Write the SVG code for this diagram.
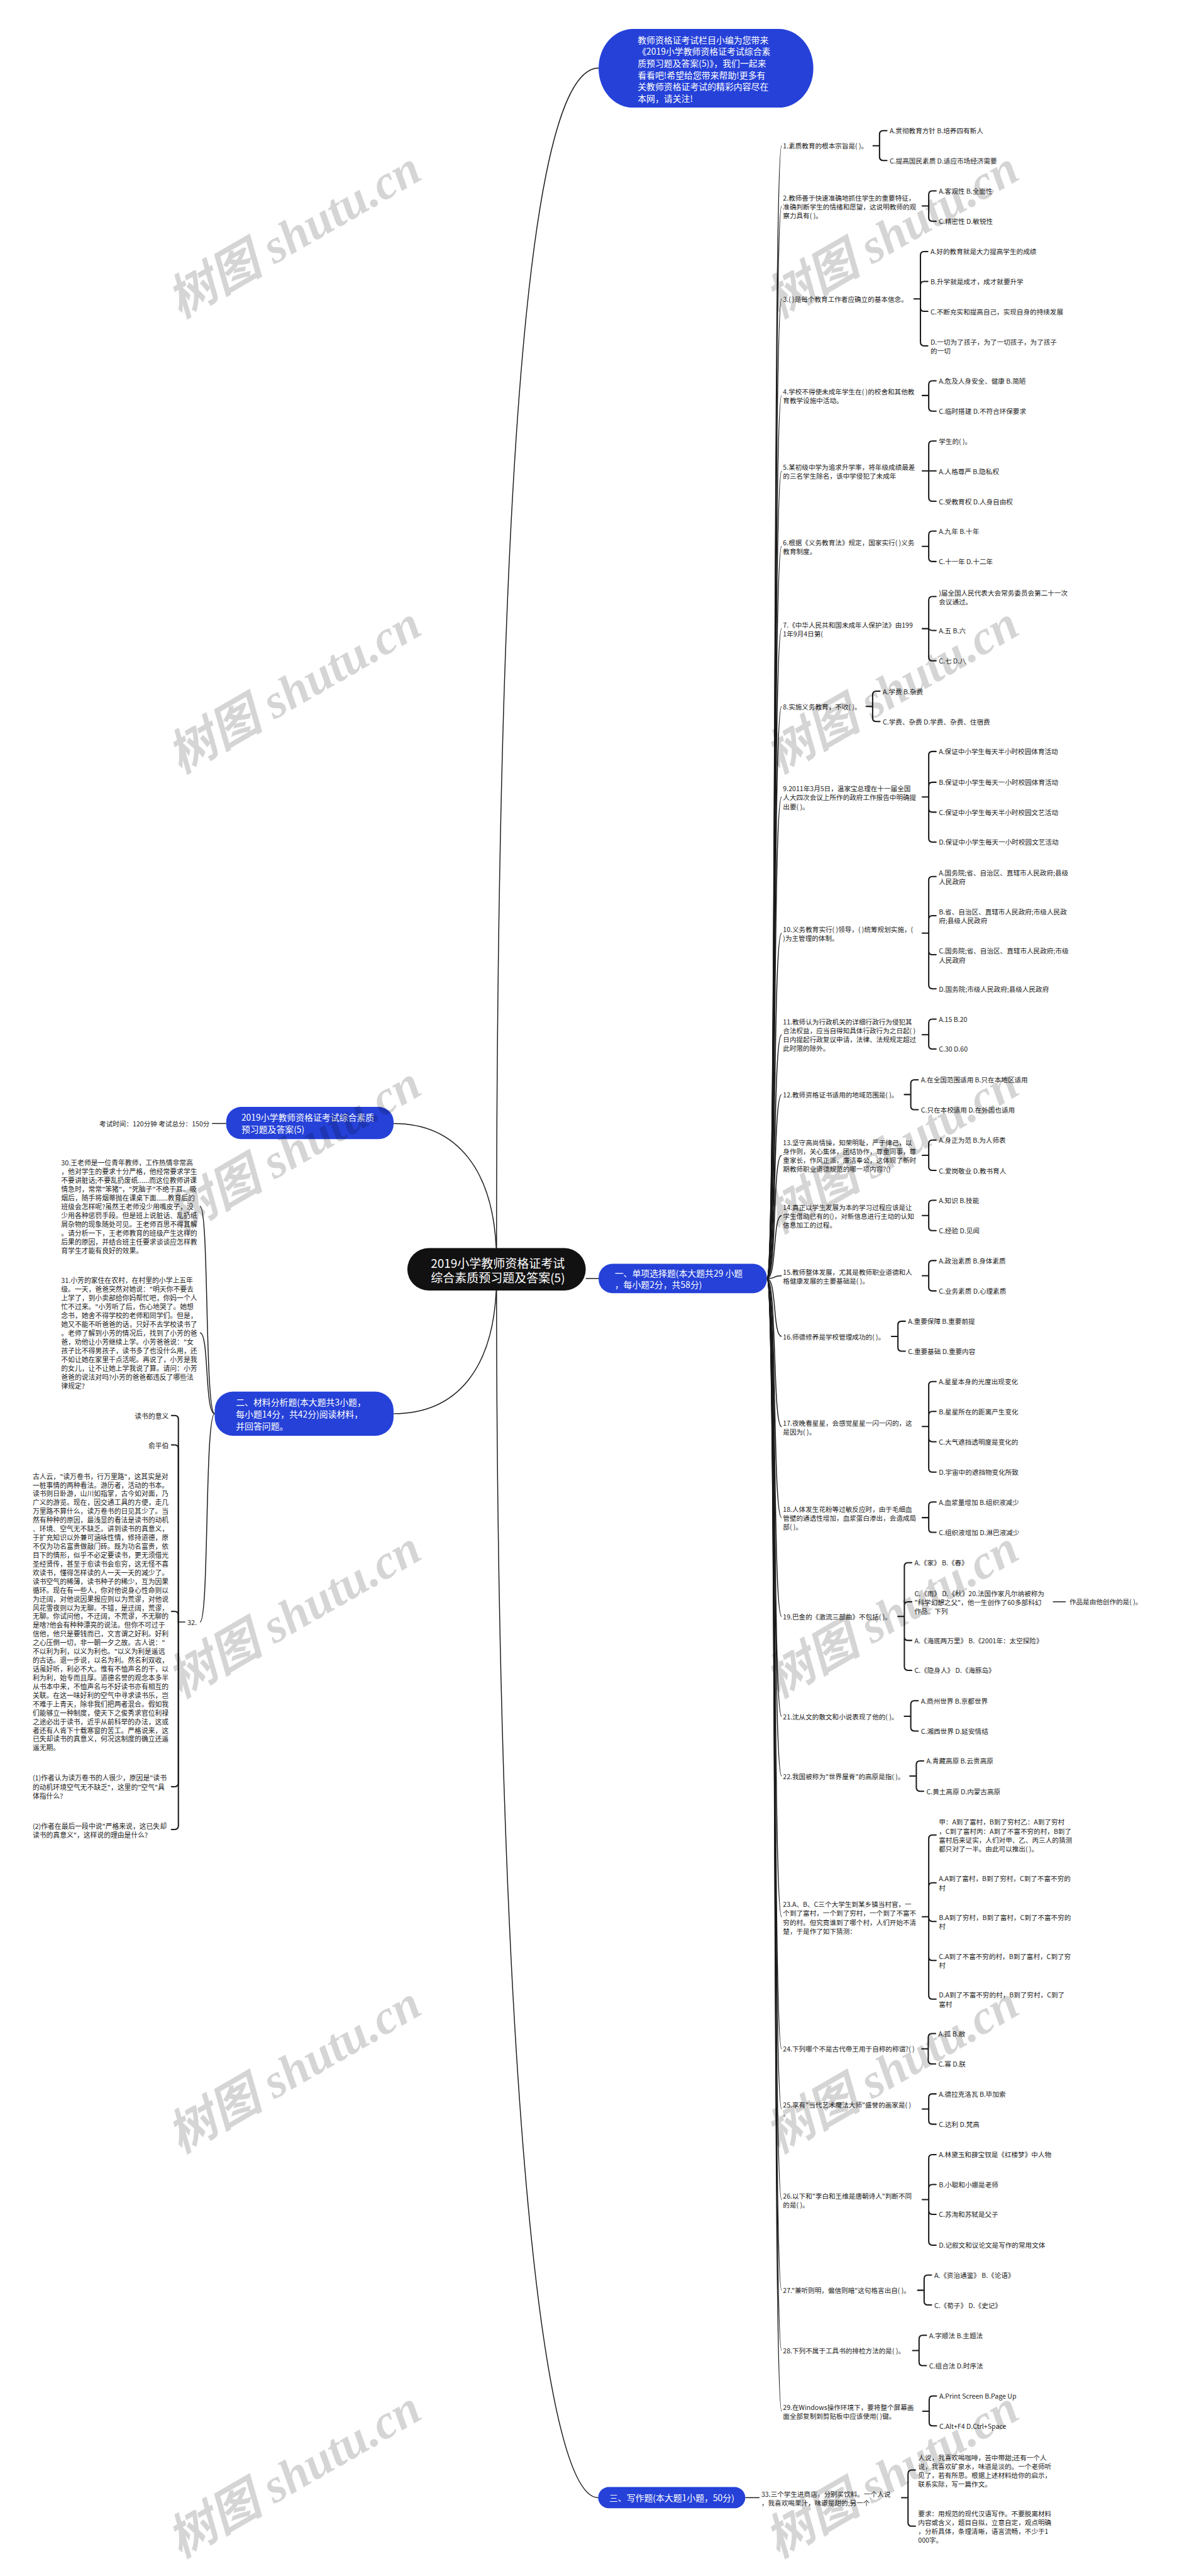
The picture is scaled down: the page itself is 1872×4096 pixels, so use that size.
<svg xmlns="http://www.w3.org/2000/svg" width="1872" height="4096" viewBox="0 0 1872 4096">
<style>
.t{font-family:'Noto Sans CJK SC','Noto Sans',sans-serif;font-size:14.5px;fill:#222;dominant-baseline:central}
.tl{font-family:'Noto Sans CJK SC','Noto Sans',sans-serif;font-size:14.8px;fill:#222;dominant-baseline:central}
.w{font-family:'Noto Sans CJK SC','Noto Sans',sans-serif;font-size:19px;fill:#fff;dominant-baseline:central}
.c{fill:none;stroke:#1a1a1a;stroke-width:2}
.b{fill:none;stroke:#1a1a1a;stroke-width:2.8;stroke-linecap:round}
.nb{fill:#2541d8}
.wm{font-family:'Liberation Serif','Noto Sans CJK SC',serif;font-size:105px;font-weight:bold;font-style:italic;fill:#000;opacity:0.16;text-anchor:middle;dominant-baseline:central}
</style>
<rect width="1872" height="4096" fill="#fff"/>
<g transform="scale(0.73125)">
<g id="connectors">
<path class="c" d="M1080,2740C1080,700 1180,148 1302,148"/>
<path class="c" d="M1080,2780C1080,4400 1170,5431 1301,5431"/>
<path class="c" d="M1080,2745C1080,2540 990,2443 856,2443"/>
<path class="c" d="M1080,2775C1080,2980 990,3074 856,3074"/>
<path class="c" d="M1274,2780H1302"/>
<path class="c" d="M492,2443H461"/>
<path class="c" d="M467,3074C445,3074 455,2623 435,2623"/>
<path class="c" d="M467,3074C445,3074 455,2898 435,2898"/>
<path class="c" d="M467,3074C445,3074 455,3527 435,3527"/>
<path class="c" d="M403,3527H388"/>
<path class="b" d="M388,3527V3086Q388,3078 380,3078H373"/>
<path class="b" d="M388,3527V3150Q388,3142 380,3142H373"/>
<path class="b" d="M388,3527V3512Q388,3504 380,3504H373"/>
<path class="b" d="M388,3527V3877Q388,3885 380,3885H373"/>
<path class="b" d="M388,3527V3970Q388,3978 380,3978H373"/>
<path class="c" d="M1621,5431H1652"/>
<g id="trunk">
<path class="c" d="M1668,2780C1690,2780 1680,317 1700,317"/>
<path class="c" d="M1668,2780C1690,2780 1680,448 1700,448"/>
<path class="c" d="M1668,2780C1690,2780 1680,650 1700,650"/>
<path class="c" d="M1668,2780C1690,2780 1680,860 1700,860"/>
<path class="c" d="M1668,2780C1690,2780 1680,1024 1700,1024"/>
<path class="c" d="M1668,2780C1690,2780 1680,1188 1700,1188"/>
<path class="c" d="M1668,2780C1690,2780 1680,1367 1700,1367"/>
<path class="c" d="M1668,2780C1690,2780 1680,1536 1700,1536"/>
<path class="c" d="M1668,2780C1690,2780 1680,1733 1700,1733"/>
<path class="c" d="M1668,2780C1690,2780 1680,2029 1700,2029"/>
<path class="c" d="M1668,2780C1690,2780 1680,2250 1700,2250"/>
<path class="c" d="M1668,2780C1690,2780 1680,2380 1700,2380"/>
<path class="c" d="M1668,2780C1690,2780 1680,2512 1700,2512"/>
<path class="c" d="M1668,2780C1690,2780 1680,2643 1700,2643"/>
<path class="c" d="M1668,2780C1690,2780 1680,2774 1700,2774"/>
<path class="c" d="M1668,2780C1690,2780 1680,2906 1700,2906"/>
<path class="c" d="M1668,2780C1690,2780 1680,3102 1700,3102"/>
<path class="c" d="M1668,2780C1690,2780 1680,3300 1700,3300"/>
<path class="c" d="M1668,2780C1690,2780 1680,3515 1700,3515"/>
<path class="c" d="M1668,2780C1690,2780 1680,3732 1700,3732"/>
<path class="c" d="M1668,2780C1690,2780 1680,3862 1700,3862"/>
<path class="c" d="M1668,2780C1690,2780 1680,4168 1700,4168"/>
<path class="c" d="M1668,2780C1690,2780 1680,4455 1700,4455"/>
<path class="c" d="M1668,2780C1690,2780 1680,4586 1700,4586"/>
<path class="c" d="M1668,2780C1690,2780 1680,4783 1700,4783"/>
<path class="c" d="M1668,2780C1690,2780 1680,4980 1700,4980"/>
<path class="c" d="M1668,2780C1690,2780 1680,5111 1700,5111"/>
<path class="c" d="M1668,2780C1690,2780 1680,5243 1700,5243"/>
</g>
<g id="brackets">
<path class="b" d="M1899,317H1913M1913,317V292Q1913,284 1921,284H1929M1913,317V341Q1913,349 1921,349H1929"/>
<path class="b" d="M2006,448H2020M2020,448V423Q2020,415 2028,415H2036M2020,448V473Q2020,481 2028,481H2036"/>
<path class="b" d="M1988,650H2002M2002,650V555Q2002,547 2010,547H2018M2002,650V620Q2002,612 2010,612H2018M2002,650V669Q2002,677 2010,677H2018M2002,650V744Q2002,752 2010,752H2018"/>
<path class="b" d="M2006,860H2020M2020,860V836Q2020,828 2028,828H2036M2020,860V886Q2020,894 2028,894H2036"/>
<path class="b" d="M2006,1024H2020M2020,1024V967Q2020,959 2028,959H2036M2020,1024H2036M2020,1024V1082Q2020,1090 2028,1090H2036"/>
<path class="b" d="M2006,1188H2020M2020,1188V1163Q2020,1155 2028,1155H2036M2020,1188V1213Q2020,1221 2028,1221H2036"/>
<path class="b" d="M2006,1367H2020M2020,1367V1305Q2020,1297 2028,1297H2036M2020,1367Q2022,1371 2030,1371H2036M2020,1367V1429Q2020,1437 2028,1437H2036"/>
<path class="b" d="M1884,1536H1898M1898,1536V1511Q1898,1503 1906,1503H1914M1898,1536V1561Q1898,1569 1906,1569H1914"/>
<path class="b" d="M2006,1733H2020M2020,1733V1642Q2020,1634 2028,1634H2036M2020,1733V1709Q2020,1701 2028,1701H2036M2020,1733V1758Q2020,1766 2028,1766H2036M2020,1733V1823Q2020,1831 2028,1831H2036"/>
<path class="b" d="M2006,2029H2020M2020,2029V1914Q2020,1906 2028,1906H2036M2020,2029V1999Q2020,1991 2028,1991H2036M2020,2029V2068Q2020,2076 2028,2076H2036M2020,2029V2142Q2020,2150 2028,2150H2036"/>
<path class="b" d="M2006,2250H2020M2020,2250V2224Q2020,2216 2028,2216H2036M2020,2250V2273Q2020,2281 2028,2281H2036"/>
<path class="b" d="M1967,2380H1981M1981,2380V2356Q1981,2348 1989,2348H1997M1981,2380V2405Q1981,2413 1989,2413H1997"/>
<path class="b" d="M2006,2512H2020M2020,2512V2487Q2020,2479 2028,2479H2036M2020,2512V2537Q2020,2545 2028,2545H2036"/>
<path class="b" d="M2006,2643H2020M2020,2643V2618Q2020,2610 2028,2610H2036M2020,2643V2668Q2020,2676 2028,2676H2036"/>
<path class="b" d="M2006,2774H2020M2020,2774V2749Q2020,2741 2028,2741H2036M2020,2774V2799Q2020,2807 2028,2807H2036"/>
<path class="b" d="M1939,2906H1953M1953,2906V2881Q1953,2873 1961,2873H1969M1953,2906V2930Q1953,2938 1961,2938H1969"/>
<path class="b" d="M2006,3102H2020M2020,3102V3012Q2020,3004 2028,3004H2036M2020,3102V3077Q2020,3069 2028,3069H2036M2020,3102V3127Q2020,3135 2028,3135H2036M2020,3102V3193Q2020,3201 2028,3201H2036"/>
<path class="b" d="M2006,3300H2020M2020,3300V3274Q2020,3266 2028,3266H2036M2020,3300V3324Q2020,3332 2028,3332H2036"/>
<path class="b" d="M1953,3515H1967M1967,3515V3406Q1967,3398 1975,3398H1983M1967,3515V3491Q1967,3483 1975,3483H1983M1967,3515V3559Q1967,3567 1975,3567H1983M1967,3515V3624Q1967,3632 1975,3632H1983"/>
<path class="c" d="M2290,3483H2318"/>
<path class="b" d="M1967,3732H1981M1981,3732V3706Q1981,3698 1989,3698H1997M1981,3732V3756Q1981,3764 1989,3764H1997"/>
<path class="b" d="M1979,3862H1993M1993,3862V3837Q1993,3829 2001,3829H2009M1993,3862V3887Q1993,3895 2001,3895H2009"/>
<path class="b" d="M2006,4168H2020M2020,4168V3998Q2020,3990 2028,3990H2036M2020,4168V4102Q2020,4094 2028,4094H2036M2020,4168V4170Q2020,4178 2028,4178H2036M2020,4168V4255Q2020,4263 2028,4263H2036M2020,4168V4339Q2020,4347 2028,4347H2036"/>
<path class="b" d="M2005,4455H2019M2019,4455V4430Q2019,4422 2027,4422H2035M2019,4455V4480Q2019,4488 2027,4488H2035"/>
<path class="b" d="M2006,4586H2020M2020,4586V4561Q2020,4553 2028,4553H2036M2020,4586V4611Q2020,4619 2028,4619H2036"/>
<path class="b" d="M2006,4783H2020M2020,4783V4693Q2020,4685 2028,4685H2036M2020,4783V4758Q2020,4750 2028,4750H2036M2020,4783V4807Q2020,4815 2028,4815H2036M2020,4783V4874Q2020,4882 2028,4882H2036"/>
<path class="b" d="M1996,4980H2010M2010,4980V4955Q2010,4947 2018,4947H2026M2010,4980V5004Q2010,5012 2018,5012H2026"/>
<path class="b" d="M1985,5111H1999M1999,5111V5086Q1999,5078 2007,5078H2015M1999,5111V5136Q1999,5144 2007,5144H2015"/>
<path class="b" d="M2007,5243H2021M2021,5243V5218Q2021,5210 2029,5210H2037M2021,5243V5267Q2021,5275 2029,5275H2037"/>
<path class="b" d="M1961,5431H1975M1975,5431V5379Q1975,5371 1983,5371H1991M1975,5431V5485Q1975,5493 1983,5493H1991"/>
</g>
</g>

<g id="top-node">
<rect class="nb" x="1302" y="63" width="467" height="171" rx="75" ry="85"/>
<text class="w" x="1387" y="86"><tspan x="1387">教师资格证考试栏目小编为您带来</tspan><tspan x="1387" dy="25.4">《2019小学教师资格证考试综合素</tspan><tspan x="1387" dy="25.4">质预习题及答案(5)》，我们一起来</tspan><tspan x="1387" dy="25.4">看看吧!希望给您带来帮助!更多有</tspan><tspan x="1387" dy="25.4">关教师资格证考试的精彩内容尽在</tspan><tspan x="1387" dy="25.4">本网，请关注!</tspan></text>
</g>
<g id="root">
<rect x="886" y="2714" width="388" height="92" rx="46" fill="#111"/>
<text class="w" style="font-size:26px" x="937" y="2744"><tspan x="937">2019小学教师资格证考试</tspan><tspan x="937" dy="32">综合素质预习题及答案(5)</tspan></text>
</g>
<g id="left-title">
<rect class="nb" x="492" y="2407" width="364" height="70" rx="32"/>
<text class="w" x="525" y="2429"><tspan x="525">2019小学教师资格证考试综合素质</tspan><tspan x="525" dy="26">预习题及答案(5)</tspan></text>
</g>
<g id="exam-time"><text class="t" x="456" y="2443" text-anchor="end">考试时间：120分钟 考试总分：150分</text></g>
<g id="sec1">
<rect class="nb" x="1302" y="2748" width="366" height="64" rx="30"/>
<text class="w" x="1337" y="2768"><tspan x="1337">一、单项选择题(本大题共29 小题</tspan><tspan x="1337" dy="24">，每小题2分，共58分)</tspan></text>
</g>
<g id="sec2">
<rect class="nb" x="467" y="3026" width="389" height="96" rx="40"/>
<text class="w" x="513" y="3048"><tspan x="513">二、材料分析题(本大题共3小题，</tspan><tspan x="513" dy="26">每小题14分，共42分)阅读材料，</tspan><tspan x="513" dy="26">并回答问题。</tspan></text>
</g>
<g id="sec3">
<rect class="nb" x="1301" y="5408" width="320" height="46" rx="23"/>
<text class="w" x="1325" y="5431">三、写作题(本大题1小题，50分)</text>
</g>

<g id="q30"><text class="tl" x="133" y="2527"><tspan x="133">30.王老师是一位青年教师，工作热情非常高</tspan><tspan x="133" dy="19.1">，他对学生的要求十分严格，他经常要求学生</tspan><tspan x="133" dy="19.1">不要讲脏话;不要乱扔废纸......而这位教师讲课</tspan><tspan x="133" dy="19.1">情急时，常常"笨猪"，"死脑子"不绝于耳。吸</tspan><tspan x="133" dy="19.1">烟后，随手将烟蒂抛在课桌下面......教育后的</tspan><tspan x="133" dy="19.1">班级会怎样呢?虽然王老师没少用嘴皮子，没</tspan><tspan x="133" dy="19.1">少用各种惩罚手段。但是班上说脏话、乱扔纸</tspan><tspan x="133" dy="19.1">屑杂物的现象随处可见。王老师百思不得其解</tspan><tspan x="133" dy="19.1">。请分析一下，王老师教育的班级产生这样的</tspan><tspan x="133" dy="19.1">后果的原因，并结合班主任要求谈谈应怎样教</tspan><tspan x="133" dy="19.1">育学生才能有良好的效果。</tspan></text></g>
<g id="q31"><text class="tl" x="133" y="2783"><tspan x="133">31.小芳的家住在农村，在村里的小学上五年</tspan><tspan x="133" dy="19.1">级。一天，爸爸突然对她说："明天你不要去</tspan><tspan x="133" dy="19.1">上学了，到小卖部给你妈帮忙吧，你妈一个人</tspan><tspan x="133" dy="19.1">忙不过来。"小芳听了后，伤心地哭了。她想</tspan><tspan x="133" dy="19.1">念书，她舍不得学校的老师和同学们。但是，</tspan><tspan x="133" dy="19.1">她又不能不听爸爸的话，只好不去学校读书了</tspan><tspan x="133" dy="19.1">。老师了解到小芳的情况后，找到了小芳的爸</tspan><tspan x="133" dy="19.1">爸，劝他让小芳继续上学。小芳爸爸说："女</tspan><tspan x="133" dy="19.1">孩子比不得男孩子，读书多了也没什么用，还</tspan><tspan x="133" dy="19.1">不如让她在家里干点活呢。再说了，小芳是我</tspan><tspan x="133" dy="19.1">的女儿，让不让她上学我说了算。请问：小芳</tspan><tspan x="133" dy="19.1">爸爸的说法对吗?小芳的爸爸都违反了哪些法</tspan><tspan x="133" dy="19.1">律规定?</tspan></text></g>
<g id="q32">
<text class="tl" x="428" y="3527" text-anchor="end">32.</text>
<g id="q32-title"><text class="tl" x="367" y="3078" text-anchor="end">读书的意义</text></g>
<g id="q32-author"><text class="tl" x="367" y="3142" text-anchor="end">俞平伯</text></g>
<g id="q32-text"><text class="tl" x="71" y="3209"><tspan x="71">古人云，"读万卷书，行万里路"，这其实是对</tspan><tspan x="71" dy="19.05">一桩事情的两种看法。游历者，活动的书本。</tspan><tspan x="71" dy="19.05">读书则日卧游，山川如指掌，古今如对面，乃</tspan><tspan x="71" dy="19.05">广义的游览。现在，因交通工具的方便，走几</tspan><tspan x="71" dy="19.05">万里路不算什么，读万卷书的日见其少了。当</tspan><tspan x="71" dy="19.05">然有种种的原因，最浅显的看法是读书的动机</tspan><tspan x="71" dy="19.05">、环境、空气无不缺乏。讲到读书的真意义，</tspan><tspan x="71" dy="19.05">于扩充知识以外兼可涵咏性情，修持道德，原</tspan><tspan x="71" dy="19.05">不仅为功名富贵做敲门砖。既为功名富贵，依</tspan><tspan x="71" dy="19.05">目下的情形，似乎不必定要读书，更无须借光</tspan><tspan x="71" dy="19.05">圣经贤传，甚至于愈读书会愈穷，这无怪不喜</tspan><tspan x="71" dy="19.05">欢读书，懂得怎样读的人一天一天的减少了。</tspan><tspan x="71" dy="19.05">读书空气的稀薄，读书种子的稀少，互为因果</tspan><tspan x="71" dy="19.05">循环。现在有一些人，你对他说身心性命则以</tspan><tspan x="71" dy="19.05">为迂阔，对他说因果报应则以为荒谬，对他说</tspan><tspan x="71" dy="19.05">风花雪夜则以为无聊。不错，是迂阔，荒谬，</tspan><tspan x="71" dy="19.05">无聊。你试问他，不迂阔，不荒谬，不无聊的</tspan><tspan x="71" dy="19.05">是啥?他会有种种漂亮的说法。但你不可过于</tspan><tspan x="71" dy="19.05">信他，他只是要钱而已，文言谓之好利。好利</tspan><tspan x="71" dy="19.05">之心压倒一切，非一朝一夕之故。古人说："</tspan><tspan x="71" dy="19.05">不以利为利，以义为利也。"以义为利是遥远</tspan><tspan x="71" dy="19.05">的古话。退一步说，以名为利。然名利双收，</tspan><tspan x="71" dy="19.05">话虽好听，利必不大。惟有不恤声名的干，以</tspan><tspan x="71" dy="19.05">利为利，始专而且厚。道德名誉的观念本多半</tspan><tspan x="71" dy="19.05">从书本中来，不恤声名与不好读书亦有相互的</tspan><tspan x="71" dy="19.05">关联。在这一味好利的空气中寻求读书乐，岂</tspan><tspan x="71" dy="19.05">不难于上青天，除非我们把两者混合。假如我</tspan><tspan x="71" dy="19.05">们能够立一种制度，使天下之俊秀求官位利禄</tspan><tspan x="71" dy="19.05">之途必出于读书，近乎从前科举的办法，这或</tspan><tspan x="71" dy="19.05">者还有人肯下十载寒窗的苦工。严格说来，这</tspan><tspan x="71" dy="19.05">已失却读书的真意义，何况这制度的确立还遥</tspan><tspan x="71" dy="19.05">遥无期。</tspan></text></g>
<g id="q32-1"><text class="tl" x="71" y="3865"><tspan x="71">(1)作者认为读万卷书的人很少，原因是"读书</tspan><tspan x="71" dy="19.5">的动机环境空气无不缺乏"，这里的"空气"具</tspan><tspan x="71" dy="19.5">体指什么?</tspan></text></g>
<g id="q32-2"><text class="tl" x="71" y="3970"><tspan x="71">(2)作者在最后一段中说"严格来说，这已失却</tspan><tspan x="71" dy="19.5">读书的真意义"，这样说的理由是什么?</tspan></text></g>
</g>

<g id="q1"><text class="t" x="1703" y="317">1.素质教育的根本宗旨是( )。</text>
<text class="t" x="1935" y="284">A.贯彻教育方针 B.培养四有新人</text>
<text class="t" x="1935" y="349">C.提高国民素质 D.适应市场经济需要</text></g>
<g id="q2"><text class="t" x="1703" y="429"><tspan x="1703">2.教师善于快速准确地抓住学生的重要特征，</tspan><tspan x="1703" dy="19.3">准确判断学生的情绪和愿望，这说明教师的观</tspan><tspan x="1703" dy="19.3">察力具有( )。</tspan></text>
<text class="t" x="2042" y="415">A.客观性 B.全面性</text>
<text class="t" x="2042" y="481">C.精密性 D.敏锐性</text></g>
<g id="q3"><text class="t" x="1703" y="650">3.( )是每个教育工作者应确立的基本信念。</text>
<text class="t" x="2024" y="547">A.好的教育就是大力提高学生的成绩</text>
<text class="t" x="2024" y="612">B.升学就是成才，成才就要升学</text>
<text class="t" x="2024" y="677">C.不断充实和提高自己，实现自身的持续发展</text>
<text class="t" x="2024" y="743"><tspan x="2024">D.一切为了孩子，为了一切孩子，为了孩子</tspan><tspan x="2024" dy="19.3">的一切</tspan></text></g>
<g id="q4"><text class="t" x="1703" y="851"><tspan x="1703">4.学校不得使未成年学生在( )的校舍和其他教</tspan><tspan x="1703" dy="19.3">育教学设施中活动。</tspan></text>
<text class="t" x="2042" y="828">A.危及人身安全、健康 B.简陋</text>
<text class="t" x="2042" y="894">C.临时搭建 D.不符合环保要求</text></g>
<g id="q5"><text class="t" x="1703" y="1015"><tspan x="1703">5.某初级中学为追求升学率，将年级成绩最差</tspan><tspan x="1703" dy="19.3">的三名学生除名，该中学侵犯了未成年</tspan></text>
<text class="t" x="2042" y="959">学生的( )。</text>
<text class="t" x="2042" y="1025">A.人格尊严 B.隐私权</text>
<text class="t" x="2042" y="1090">C.受教育权 D.人身自由权</text></g>
<g id="q6"><text class="t" x="1703" y="1179"><tspan x="1703">6.根据《义务教育法》规定，国家实行( )义务</tspan><tspan x="1703" dy="19.3">教育制度。</tspan></text>
<text class="t" x="2042" y="1155">A.九年 B.十年</text>
<text class="t" x="2042" y="1221">C.十一年 D.十二年</text></g>
<g id="q7"><text class="t" x="1703" y="1358"><tspan x="1703">7.《中华人民共和国未成年人保护法》由199</tspan><tspan x="1703" dy="19.3">1年9月4日第(</tspan></text>
<text class="t" x="2042" y="1288"><tspan x="2042">)届全国人民代表大会常务委员会第二十一次</tspan><tspan x="2042" dy="19.3">会议通过。</tspan></text>
<text class="t" x="2042" y="1371">A.五 B.六</text>
<text class="t" x="2042" y="1437">C.七 D.八</text></g>
<g id="q8"><text class="t" x="1703" y="1536">8.实施义务教育，不收( )。</text>
<text class="t" x="1920" y="1503">A.学费 B.杂费</text>
<text class="t" x="1920" y="1569">C.学费、杂费 D.学费、杂费、住宿费</text></g>
<g id="q9"><text class="t" x="1703" y="1714"><tspan x="1703">9.2011年3月5日，温家宝总理在十一届全国</tspan><tspan x="1703" dy="19.3">人大四次会议上所作的政府工作报告中明确提</tspan><tspan x="1703" dy="19.3">出要( )。</tspan></text>
<text class="t" x="2042" y="1634">A.保证中小学生每天半小时校园体育活动</text>
<text class="t" x="2042" y="1701">B.保证中小学生每天一小时校园体育活动</text>
<text class="t" x="2042" y="1766">C.保证中小学生每天半小时校园文艺活动</text>
<text class="t" x="2042" y="1831">D.保证中小学生每天一小时校园文艺活动</text></g>
<g id="q10"><text class="t" x="1703" y="2020"><tspan x="1703">10.义务教育实行( )领导，( )统筹规划实施，(</tspan><tspan x="1703" dy="19.3">)为主管理的体制。</tspan></text>
<text class="t" x="2042" y="1897"><tspan x="2042">A.国务院;省、自治区、直辖市人民政府;县级</tspan><tspan x="2042" dy="19.3">人民政府</tspan></text>
<text class="t" x="2042" y="1982"><tspan x="2042">B.省、自治区、直辖市人民政府;市级人民政</tspan><tspan x="2042" dy="19.3">府;县级人民政府</tspan></text>
<text class="t" x="2042" y="2067"><tspan x="2042">C.国务院;省、自治区、直辖市人民政府;市级</tspan><tspan x="2042" dy="19.3">人民政府</tspan></text>
<text class="t" x="2042" y="2150">D.国务院;市级人民政府;县级人民政府</text></g>
<g id="q11"><text class="t" x="1703" y="2221"><tspan x="1703">11.教师认为行政机关的详细行政行为侵犯其</tspan><tspan x="1703" dy="19.3">合法权益，应当自得知具体行政行为之日起( )</tspan><tspan x="1703" dy="19.3">日内提起行政复议申请，法律、法规规定超过</tspan><tspan x="1703" dy="19.3">此时限的除外。</tspan></text>
<text class="t" x="2042" y="2216">A.15 B.20</text>
<text class="t" x="2042" y="2281">C.30 D.60</text></g>
<g id="q12"><text class="t" x="1703" y="2380">12.教师资格证书适用的地域范围是( )。</text>
<text class="t" x="2003" y="2348">A.在全国范围适用 B.只在本地区适用</text>
<text class="t" x="2003" y="2413">C.只在本校适用 D.在外国也适用</text></g>
<g id="q13"><text class="t" x="1703" y="2483"><tspan x="1703">13.坚守高尚情操，知荣明耻，严于律己，以</tspan><tspan x="1703" dy="19.3">身作则，关心集体，团结协作，尊重同事，尊</tspan><tspan x="1703" dy="19.3">重家长，作风正派，廉洁奉公，这体现了新时</tspan><tspan x="1703" dy="19.3">期教师职业道德规范的哪一项内容?()</tspan></text>
<text class="t" x="2042" y="2479">A.身正为范 B.为人师表</text>
<text class="t" x="2042" y="2545">C.爱岗敬业 D.教书育人</text></g>
<g id="q14"><text class="t" x="1703" y="2624"><tspan x="1703">14.真正以学生发展为本的学习过程应该是让</tspan><tspan x="1703" dy="19.3">学生借助已有的()，对新信息进行主动的认知</tspan><tspan x="1703" dy="19.3">信息加工的过程。</tspan></text>
<text class="t" x="2042" y="2610">A.知识 B.技能</text>
<text class="t" x="2042" y="2676">C.经验 D.见闻</text></g>
<g id="q15"><text class="t" x="1703" y="2765"><tspan x="1703">15.教师整体发展，尤其是教师职业道德和人</tspan><tspan x="1703" dy="19.3">格健康发展的主要基础是( )。</tspan></text>
<text class="t" x="2042" y="2741">A.政治素质 B.身体素质</text>
<text class="t" x="2042" y="2807">C.业务素质 D.心理素质</text></g>
<g id="q16"><text class="t" x="1703" y="2906">16.师德修养是学校管理成功的( )。</text>
<text class="t" x="1975" y="2873">A.重要保障 B.重要前提</text>
<text class="t" x="1975" y="2938">C.重要基础 D.重要内容</text></g>
<g id="q17"><text class="t" x="1703" y="3093"><tspan x="1703">17.夜晚看星星，会感觉星星一闪一闪的，这</tspan><tspan x="1703" dy="19.3">是因为( )。</tspan></text>
<text class="t" x="2042" y="3004">A.星星本身的光度出现变化</text>
<text class="t" x="2042" y="3069">B.星星所在的距离产生变化</text>
<text class="t" x="2042" y="3135">C.大气遮挡透明度是变化的</text>
<text class="t" x="2042" y="3201">D.宇宙中的遮挡物变化所致</text></g>
<g id="q18"><text class="t" x="1703" y="3281"><tspan x="1703">18.人体发生花粉等过敏反应时，由于毛细血</tspan><tspan x="1703" dy="19.3">管壁的通透性增加，血浆蛋白渗出，会造成局</tspan><tspan x="1703" dy="19.3">部( )。</tspan></text>
<text class="t" x="2042" y="3266">A.血浆量增加 B.组织液减少</text>
<text class="t" x="2042" y="3332">C.组织液增加 D.淋巴液减少</text></g>
<g id="q19"><text class="t" x="1703" y="3515">19.巴金的《激流三部曲》不包括( )。</text>
<text class="t" x="1989" y="3398">A.《家》 B.《春》</text>
<text class="t" x="1989" y="3464"><tspan x="1989">C.《雨》 D.《秋》20.法国作家凡尔纳被称为</tspan><tspan x="1989" dy="19.3">"科学幻想之父"，他一生创作了60多部科幻</tspan><tspan x="1989" dy="19.3">作品。下列</tspan></text>
<g id="q20"><text class="t" x="2326" y="3483">作品是由他创作的是( )。</text></g>
<text class="t" x="1989" y="3567">A.《海底两万里》 B.《2001年：太空探险》</text>
<text class="t" x="1989" y="3632">C.《隐身人》 D.《海豚岛》</text></g>
<g id="q21"><text class="t" x="1703" y="3732">21.沈从文的散文和小说表现了他的( )。</text>
<text class="t" x="2003" y="3698">A.商州世界 B.京都世界</text>
<text class="t" x="2003" y="3764">C.湘西世界 D.延安情结</text></g>
<g id="q22"><text class="t" x="1703" y="3862">22.我国被称为"世界屋脊"的高原是指( )。</text>
<text class="t" x="2015" y="3829">A.青藏高原 B.云贵高原</text>
<text class="t" x="2015" y="3895">C.黄土高原 D.内蒙古高原</text></g>
<g id="q23"><text class="t" x="1703" y="4140"><tspan x="1703">23.A、B、C三个大学生到某乡镇当村官，一</tspan><tspan x="1703" dy="19.3">个到了富村，一个到了穷村，一个到了不富不</tspan><tspan x="1703" dy="19.3">穷的村。但究竟谁到了哪个村，人们开始不清</tspan><tspan x="1703" dy="19.3">楚，于是作了如下猜测：</tspan></text>
<text class="t" x="2042" y="3961"><tspan x="2042">甲：A到了富村，B到了穷村乙：A到了穷村</tspan><tspan x="2042" dy="19.3">，C到了富村丙：A到了不富不穷的村，B到了</tspan><tspan x="2042" dy="19.3">富村后来证实，人们对甲、乙、丙三人的猜测</tspan><tspan x="2042" dy="19.3">都只对了一半。由此可以推出( )。</tspan></text>
<text class="t" x="2042" y="4084"><tspan x="2042">A.A到了富村，B到了穷村，C到了不富不穷的</tspan><tspan x="2042" dy="19.3">村</tspan></text>
<text class="t" x="2042" y="4168"><tspan x="2042">B.A到了穷村，B到了富村，C到了不富不穷的</tspan><tspan x="2042" dy="19.3">村</tspan></text>
<text class="t" x="2042" y="4253"><tspan x="2042">C.A到了不富不穷的村，B到了富村，C到了穷</tspan><tspan x="2042" dy="19.3">村</tspan></text>
<text class="t" x="2042" y="4337"><tspan x="2042">D.A到了不富不穷的村，B到了穷村，C到了</tspan><tspan x="2042" dy="19.3">富村</tspan></text></g>
<g id="q24"><text class="t" x="1703" y="4455">24.下列哪个不是古代帝王用于自称的称谓?( )</text>
<text class="t" x="2041" y="4422">A.孤 B.敝</text>
<text class="t" x="2041" y="4488">C.寡 D.朕</text></g>
<g id="q25"><text class="t" x="1703" y="4576"><tspan x="1703">25.享有"当代艺术魔法大师"盛誉的画家是( )</tspan><tspan x="1703" dy="19.3">。</tspan></text>
<text class="t" x="2042" y="4553">A.德拉克洛瓦 B.毕加索</text>
<text class="t" x="2042" y="4619">C.达利 D.梵高</text></g>
<g id="q26"><text class="t" x="1703" y="4774"><tspan x="1703">26.以下和"李白和王维是唐朝诗人"判断不同</tspan><tspan x="1703" dy="19.3">的是( )。</tspan></text>
<text class="t" x="2042" y="4685">A.林黛玉和薛宝钗是《红楼梦》中人物</text>
<text class="t" x="2042" y="4750">B.小聪和小娜是老师</text>
<text class="t" x="2042" y="4815">C.苏洵和苏轼是父子</text>
<text class="t" x="2042" y="4882">D.记叙文和议论文是写作的常用文体</text></g>
<g id="q27"><text class="t" x="1703" y="4980">27."兼听则明，偏信则暗"这句格言出自( )。</text>
<text class="t" x="2032" y="4947">A.《资治通鉴》 B.《论语》</text>
<text class="t" x="2032" y="5012">C.《荀子》 D.《史记》</text></g>
<g id="q28"><text class="t" x="1703" y="5111">28.下列不属于工具书的排检方法的是( )。</text>
<text class="t" x="2021" y="5078">A.字顺法 B.主题法</text>
<text class="t" x="2021" y="5144">C.组合法 D.时序法</text></g>
<g id="q29"><text class="t" x="1703" y="5233"><tspan x="1703">29.在Windows操作环境下，要将整个屏幕画</tspan><tspan x="1703" dy="19.3">面全部复制到剪贴板中应该使用( )键。</tspan></text>
<text class="t" x="2043" y="5210">A.Print Screen B.Page Up</text>
<text class="t" x="2043" y="5275">C.Alt+F4 D.Ctrl+Space</text></g>
<g id="q33"><text class="t" x="1656" y="5422"><tspan x="1656">33.三个学生进商店，分别买饮料。一个人说</tspan><tspan x="1656" dy="19">，我喜欢喝果汁，味道是甜的;另一个</tspan></text>
<text class="t" x="1997" y="5343"><tspan x="1997">人说，我喜欢喝咖啡，苦中带甜;还有一个人</tspan><tspan x="1997" dy="19">说，我喜欢矿泉水，味道是淡的。一个老师听</tspan><tspan x="1997" dy="19">见了，若有所思。根据上述材料给你的启示，</tspan><tspan x="1997" dy="19">联系实际，写一篇作文。</tspan></text>
<text class="t" x="1997" y="5465"><tspan x="1997">要求：用规范的现代汉语写作。不要脱离材料</tspan><tspan x="1997" dy="19">内容或含义，题目自拟，立意自定，观点明确</tspan><tspan x="1997" dy="19">，分析具体，条理清晰，语言流畅，不少于1</tspan><tspan x="1997" dy="19">000字。</tspan></text></g>

<g id="watermarks">
<text class="wm" x="640" y="510" transform="rotate(-30 640 510)">树图 shutu.cn</text>
<text class="wm" x="1940" y="510" transform="rotate(-30 1940 510)">树图 shutu.cn</text>
<text class="wm" x="640" y="1500" transform="rotate(-30 640 1500)">树图 shutu.cn</text>
<text class="wm" x="1940" y="1500" transform="rotate(-30 1940 1500)">树图 shutu.cn</text>
<text class="wm" x="640" y="2500" transform="rotate(-30 640 2500)">树图 shutu.cn</text>
<text class="wm" x="1940" y="2500" transform="rotate(-30 1940 2500)">树图 shutu.cn</text>
<text class="wm" x="640" y="3510" transform="rotate(-30 640 3510)">树图 shutu.cn</text>
<text class="wm" x="1940" y="3510" transform="rotate(-30 1940 3510)">树图 shutu.cn</text>
<text class="wm" x="640" y="4500" transform="rotate(-30 640 4500)">树图 shutu.cn</text>
<text class="wm" x="1940" y="4500" transform="rotate(-30 1940 4500)">树图 shutu.cn</text>
<text class="wm" x="640" y="5380" transform="rotate(-30 640 5380)">树图 shutu.cn</text>
<text class="wm" x="1940" y="5380" transform="rotate(-30 1940 5380)">树图 shutu.cn</text>
</g>
</g>
</svg>
